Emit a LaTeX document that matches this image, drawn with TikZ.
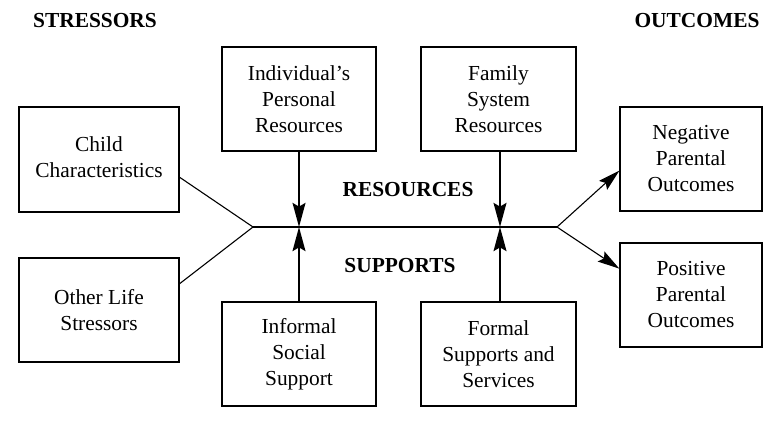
\documentclass[tikz,border=0pt]{standalone}
\usepackage{fontspec}
\setmainfont{Liberation Serif}
\usetikzlibrary{calc,arrows.meta}
\begin{document}
\begin{tikzpicture}[x=0.5pt,y=-0.5pt,
  every node/.style={font=\fontsize{10.7}{13}\selectfont},
  box/.style={draw,line width=0.6pt,align=center,inner sep=0pt},
  hdr/.style={font=\fontsize{10.7}{13}\selectfont\bfseries},
  link/.style={line width=0.55pt},
  feed/.style={line width=1.2pt,-{Stealth[length=12pt,width=6.4pt,inset=1.8pt]}},
  outarr/.style={line width=0.55pt,-{Stealth[length=11pt,width=6pt,inset=1.8pt]}}]
\useasboundingbox (0,0) rectangle (763,430);

% stressors
\node[box,minimum width=80pt,minimum height=52.5pt] (child) at (99,159.5)
  {\raisebox{2pt}{\begin{tabular}{@{}c@{}}Child\\Characteristics\end{tabular}}};
\node[box,minimum width=80pt,minimum height=52pt] (other) at (99,310) {Other Life\\Stressors};

% resources above the axis, supports below it
\node[box,minimum width=77pt,minimum height=52pt] (indiv) at (299,99) {Individual’s\\Personal\\Resources};
\node[box,minimum width=77.5pt,minimum height=52pt] (family) at (498.5,99) {Family\\System\\Resources};
\node[box,minimum width=77pt,minimum height=52pt] (informal) at (299,354) {Informal\\Social\\Support};
\node[box,minimum width=77.5pt,minimum height=52pt] (formal) at (498.5,354) {Formal\\Supports and\\Services};

% outcomes
\node[box,minimum width=71pt,minimum height=52pt] (neg) at (691,159) {Negative\\Parental\\Outcomes};
\node[box,minimum width=71pt,minimum height=52pt] (pos) at (691,295) {Positive\\Parental\\Outcomes};

% headings
\node[hdr] (hstress) at (95,21) {STRESSORS};
\node[hdr] (hout) at (697,21) {OUTCOMES};
\node[hdr] (hres) at (408,190) {RESOURCES};
\node[hdr] (hsup) at (400,266) {SUPPORTS};

% axis points
\coordinate (jl) at (253,227);
\coordinate (ja) at (299,227);
\coordinate (jb) at (500,227);
\coordinate (jr) at (557,227);

% stressor lines into the axis
\draw[link] ($(child.north east)!0.667!(child.south east)$) -- (jl);
\draw[link] ($(other.north east)!0.25!(other.south east)$) -- (jl);
\draw[link] (jl) -- (jr);

% resources and supports feeding the axis
\draw[feed] (indiv.south) -- (ja);
\draw[feed] (informal.north) -- (ja);
\draw[feed] (family.south -| jb) -- (jb);
\draw[feed] (formal.north -| jb) -- (jb);

% outcome arrows
\draw[outarr] (jr) -- ($(neg.north west)!0.61!(neg.south west)$);
\draw[outarr] (jr) -- ($(pos.north west)!0.25!(pos.south west)$);
\end{tikzpicture}
\end{document}
